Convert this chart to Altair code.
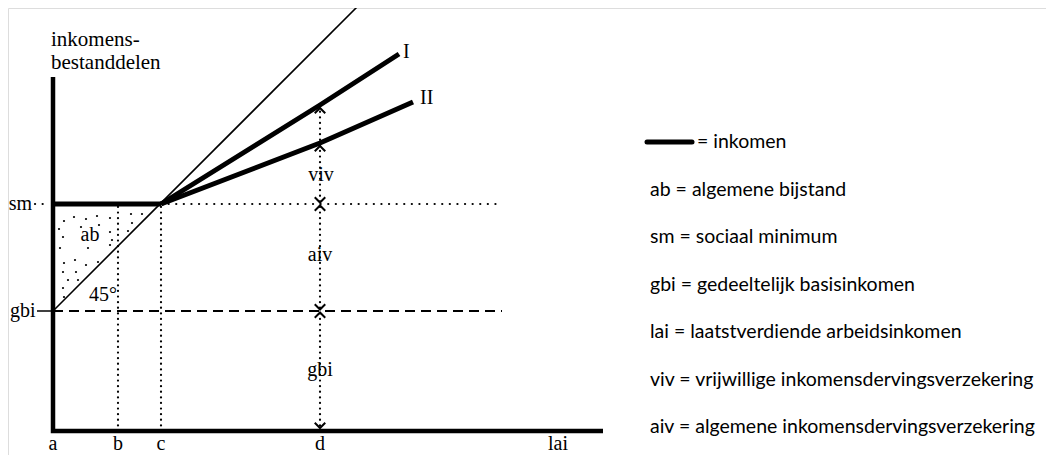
import altair as alt
import pandas as pd

# ---- data (diagram units) ----
# points on the horizontal axis (lai)
x_names = ["a", "b", "c", "d"]
x_pos = [0.0, 6.5, 10.8, 26.7]
x_axis_end = 55.0
lai_label_x = 50.5

# income levels on the vertical axis
y_gbi = 12.0
y_sm = 22.7
y_axis_top = 35.4

# 45 degree line (thin)
line45_x = [0.0, 30.4]
line45_y = [12.0, 42.4]
# income line I and II (thick)
lineI_x = [10.8, 26.7, 34.6]
lineI_y = [22.7, 32.6, 37.7]
lineII_x = [10.8, 26.7, 36.0]
lineII_y = [22.7, 28.8, 32.9]

# stipple dots in the "ab" triangle
dots_x = [1.1, 2.1, 3.3, 4.4, 5.7, 7.8, 8.9, 7.9, 1.0, 5.7, 5.9, 7.5, 0.7, 3.5,
          5.7, 1.1, 2.2, 3.3, 4.5, 1.0, 2.3, 1.5, 2.5, 1.0, 1.1, 2.8, 0.6, 4.6]
dots_y = [21.0, 21.4, 21.2, 21.5, 21.3, 21.7, 21.7, 20.8, 19.4, 19.9, 19.1, 20.0, 18.3, 18.3,
          18.6, 16.8, 17.1, 16.6, 16.9, 15.9, 15.9, 15.1, 15.1, 14.3, 13.4, 20.4, 20.2, 20.6]

# diagram labels
lab_text = ["ab", "45°", "viv", "aiv", "gbi", "I", "II", "sm", "gbi"]
lab_x = [3.7, 5.0, 26.8, 26.7, 26.7, 35.0, 36.7, -2.1, -1.75]
lab_y = [19.6, 13.6, 25.6, 17.6, 6.1, 37.9, 33.3, 22.7, 12.0]
lab_align = ["center", "center", "center", "center", "center", "left", "left", "right", "right"]

title_lines = ["inkomens-", "bestanddelen"]
title_y = [39.1, 36.8]
title_x = -0.2

axis_label_y = -1.3

# legend
legend_text = ["ab = algemene bijstand", "sm = sociaal minimum",
               "gbi = gedeeltelijk basisinkomen", "lai = laatstverdiende arbeidsinkomen",
               "viv = vrijwillige inkomensdervingsverzekering",
               "aiv = algemene inkomensdervingsverzekering"]
legend_x = 59.7
legend_y = [24.15, 19.4, 14.65, 9.9, 5.15, 0.4]
legend_line_x = [59.4, 63.9]
legend_line_y = 28.9
legend_line_text = "= inkomen"
legend_line_text_x = 64.4

# ---- scales ----
W, H = 1038, 447
xs = alt.Scale(domain=[-4.5, 99.3], nice=False, zero=False)
ys = alt.Scale(domain=[-2.4, 42.3], nice=False, zero=False)


def X(f="x"):
    return alt.X(f, type="quantitative", scale=xs, axis=None)


def Y(f="y"):
    return alt.Y(f, type="quantitative", scale=ys, axis=None)


SERIF = "Liberation Serif"
SANS = "Lato"

layers = []

# axes as one thick polyline
axes_df = pd.DataFrame({"x": [0.0, 0.0, x_axis_end], "y": [y_axis_top, 0.0, 0.0], "o": [0, 1, 2]})
layers.append(alt.Chart(axes_df).mark_line(color="black", strokeWidth=4.5, strokeJoin="miter")
              .encode(x=X(), y=Y(), order="o:Q"))

# dotted verticals at b, c, d
d_top = lineI_y[1]
vdot_df = pd.DataFrame({"x": [x_pos[1], x_pos[2], x_pos[3]], "y": [0, 0, 0],
                        "y2": [y_sm, y_sm, d_top - 0.2]})
layers.append(alt.Chart(vdot_df).mark_rule(color="black", strokeWidth=2.2, strokeDash=[0.1, 5.5],
                                           strokeCap="round")
              .encode(x=X(), y=Y(), y2="y2"))

# dotted horizontals at sm
hdot_df = pd.DataFrame({"x": [x_pos[2], -1.8], "x2": [44.5, -0.4], "y": [y_sm, y_sm]})
layers.append(alt.Chart(hdot_df).mark_rule(color="black", strokeWidth=2.2, strokeDash=[0.1, 7.5],
                                           strokeCap="round")
              .encode(x=X(), x2="x2", y=Y()))

# dashed gbi
dash_df = pd.DataFrame({"x": [0.0], "x2": [44.9], "y": [y_gbi]})
layers.append(alt.Chart(dash_df).mark_rule(color="black", strokeWidth=1.8, strokeDash=[10, 6])
              .encode(x=X(), x2="x2", y=Y()))
tick_df = pd.DataFrame({"x": [-1.6], "x2": [0.0], "y": [y_gbi]})
layers.append(alt.Chart(tick_df).mark_rule(color="black", strokeWidth=1.5)
              .encode(x=X(), x2="x2", y=Y()))

# stipple
dots_df = pd.DataFrame({"x": dots_x, "y": dots_y})
layers.append(alt.Chart(dots_df).mark_circle(color="black", size=5, opacity=1)
              .encode(x=X(), y=Y()))

# thin 45 degree line
l45_df = pd.DataFrame({"x": line45_x, "y": line45_y})
layers.append(alt.Chart(l45_df).mark_line(color="black", strokeWidth=1.6, clip=True)
              .encode(x=X(), y=Y()))

# thick income lines
inc_df = pd.DataFrame({
    "x": [0.0, x_pos[2]] + lineI_x + lineII_x,
    "y": [y_sm, y_sm] + lineI_y + lineII_y,
    "g": ["h", "h"] + ["I"] * len(lineI_x) + ["II"] * len(lineII_x),
})
layers.append(alt.Chart(inc_df).mark_line(color="black", strokeWidth=5, strokeCap="butt")
              .encode(x=X(), y=Y(), detail="g:N"))

# arrowheads on the d line
up_y = [y_gbi - 0.15, y_sm - 0.15, lineII_y[1] - 0.3, lineI_y[1] - 0.3]
down_y = [0.3, y_gbi + 0.15, y_sm + 0.15]
up_df = pd.DataFrame({"x": [x_pos[3]] * len(up_y), "y": up_y})
down_df = pd.DataFrame({"x": [x_pos[3]] * len(down_y), "y": down_y})
layers.append(alt.Chart(up_df).mark_point(shape="M-1,1L0,0L1,1", size=110, filled=False,
                                          color="black", strokeWidth=2, opacity=1)
              .encode(x=X(), y=Y()))
layers.append(alt.Chart(down_df).mark_point(shape="M-1,-1L0,0L1,-1", size=110, filled=False,
                                            color="black", strokeWidth=2, opacity=1)
              .encode(x=X(), y=Y()))

# diagram labels
lab_df = pd.DataFrame({"t": lab_text, "x": lab_x, "y": lab_y, "al": lab_align})
for al in ["center", "left", "right"]:
    sub = lab_df[lab_df["al"] == al]
    layers.append(alt.Chart(sub).mark_text(font=SERIF, fontSize=20, align=al, baseline="middle",
                                           color="black")
                  .encode(x=X(), y=Y(), text="t:N"))

# axis point labels
ax_df = pd.DataFrame({"t": x_names + ["lai"], "x": x_pos + [lai_label_x],
                      "y": [axis_label_y] * (len(x_names) + 1)})
layers.append(alt.Chart(ax_df).mark_text(font=SERIF, fontSize=20, align="center", baseline="middle",
                                         color="black")
              .encode(x=X(), y=Y(), text="t:N"))

# title of vertical axis
ti_df = pd.DataFrame({"t": title_lines, "x": [title_x] * 2, "y": title_y})
layers.append(alt.Chart(ti_df).mark_text(font=SERIF, fontSize=21, align="left", baseline="middle",
                                         color="black")
              .encode(x=X(), y=Y(), text="t:N"))

# legend
lg_df = pd.DataFrame({"t": legend_text, "x": [legend_x] * len(legend_text), "y": legend_y})
layers.append(alt.Chart(lg_df).mark_text(font=SANS, fontSize=19.5, align="left", baseline="middle",
                                         color="black")
              .encode(x=X(), y=Y(), text="t:N"))
lgl_df = pd.DataFrame({"x": legend_line_x, "y": [legend_line_y] * 2})
layers.append(alt.Chart(lgl_df).mark_line(color="black", strokeWidth=5, strokeCap="round")
              .encode(x=X(), y=Y()))
lgt_df = pd.DataFrame({"t": [legend_line_text], "x": [legend_line_text_x], "y": [legend_line_y]})
layers.append(alt.Chart(lgt_df).mark_text(font=SANS, fontSize=19.5, align="left", baseline="middle",
                                          color="black")
              .encode(x=X(), y=Y(), text="t:N"))

chart = alt.layer(*layers).properties(
    width=W, height=H, padding=0, autosize=alt.AutoSizeParams(type="none")
).configure_view(stroke=None).configure(background="white")

chart.save("out.html", embed_options={"renderer": "svg", "actions": False})
